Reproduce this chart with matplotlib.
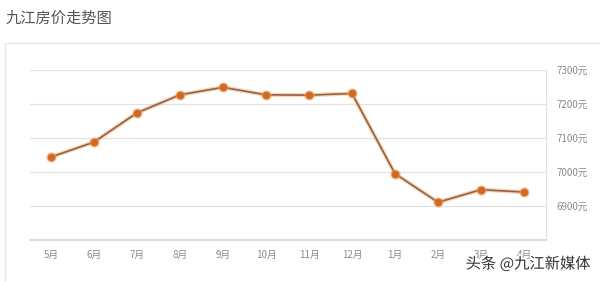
import matplotlib
matplotlib.use("Agg")
import matplotlib.pyplot as plt
import matplotlib.patheffects as pe
from matplotlib.patches import Rectangle

plt.rcParams['font.family'] = ['Noto Sans CJK SC', 'DejaVu Sans']

months = ['5月', '6月', '7月', '8月', '9月', '10月', '11月', '12月', '1月', '2月', '3月', '4月']
prices = [7044, 7088, 7174, 7227, 7249, 7227, 7226, 7231, 6995, 6911, 6948, 6941]
yticks = [6900, 7000, 7100, 7200, 7300]

fig = plt.figure(figsize=(6, 2.82), dpi=100)

# outer panel border
fig.patches.append(Rectangle((5 / 600, -0.1), 1.0, 1 - 43 / 282 + 0.1,
                             transform=fig.transFigure, fill=False,
                             edgecolor='#e6e6e6', lw=1.0))

fig.text(5 / 600, 1 - 18 / 282, '九江房价走势图', fontsize=11, color='#555555',
         ha='left', va='center')

ax = fig.add_axes([29.5 / 600, 1 - 240 / 282, 516 / 600, 170 / 282])
x = list(range(len(months)))
ax.plot(x, prices, color='#f5a868', lw=3.0, alpha=0.5, solid_capstyle='round', zorder=2)
ax.plot(x, prices, color='#8e6448', lw=1.2, zorder=3)
ax.plot(x, prices, 'o', color='#f0a060', ms=6.5, alpha=0.5, zorder=4)
ax.plot(x, prices, 'o', color='#d06a25', ms=4.5, zorder=5)

ax.set_xlim(-0.5, len(months) - 0.5)
ax.set_ylim(6800, 7300)
ax.set_xticks(x)
ax.set_xticklabels(months)
ax.set_yticks(yticks)
ax.set_yticklabels([f'{v}元' for v in yticks])
ax.yaxis.tick_right()
ax.tick_params(axis='both', length=0, labelsize=7, labelcolor='#8a8a8a')
ax.tick_params(axis='x', pad=7)
ax.tick_params(axis='y', pad=8)
ax.grid(axis='y', color='#e2e2e2', lw=0.9)
ax.set_axisbelow(True)
for s in ['top', 'left']:
    ax.spines[s].set_visible(False)
ax.spines['right'].set_color('#e2e2e2')
ax.spines['bottom'].set_color('#d5d5d5')
ax.spines['bottom'].set_linewidth(1.2)

fig.text(528 / 600, 1 - 264 / 282, '头条 @九江新媒体', fontsize=11, color='#333333',
         ha='center', va='center',
         path_effects=[pe.withStroke(linewidth=2, foreground='white')])

fig.savefig('out.png', dpi=100)
